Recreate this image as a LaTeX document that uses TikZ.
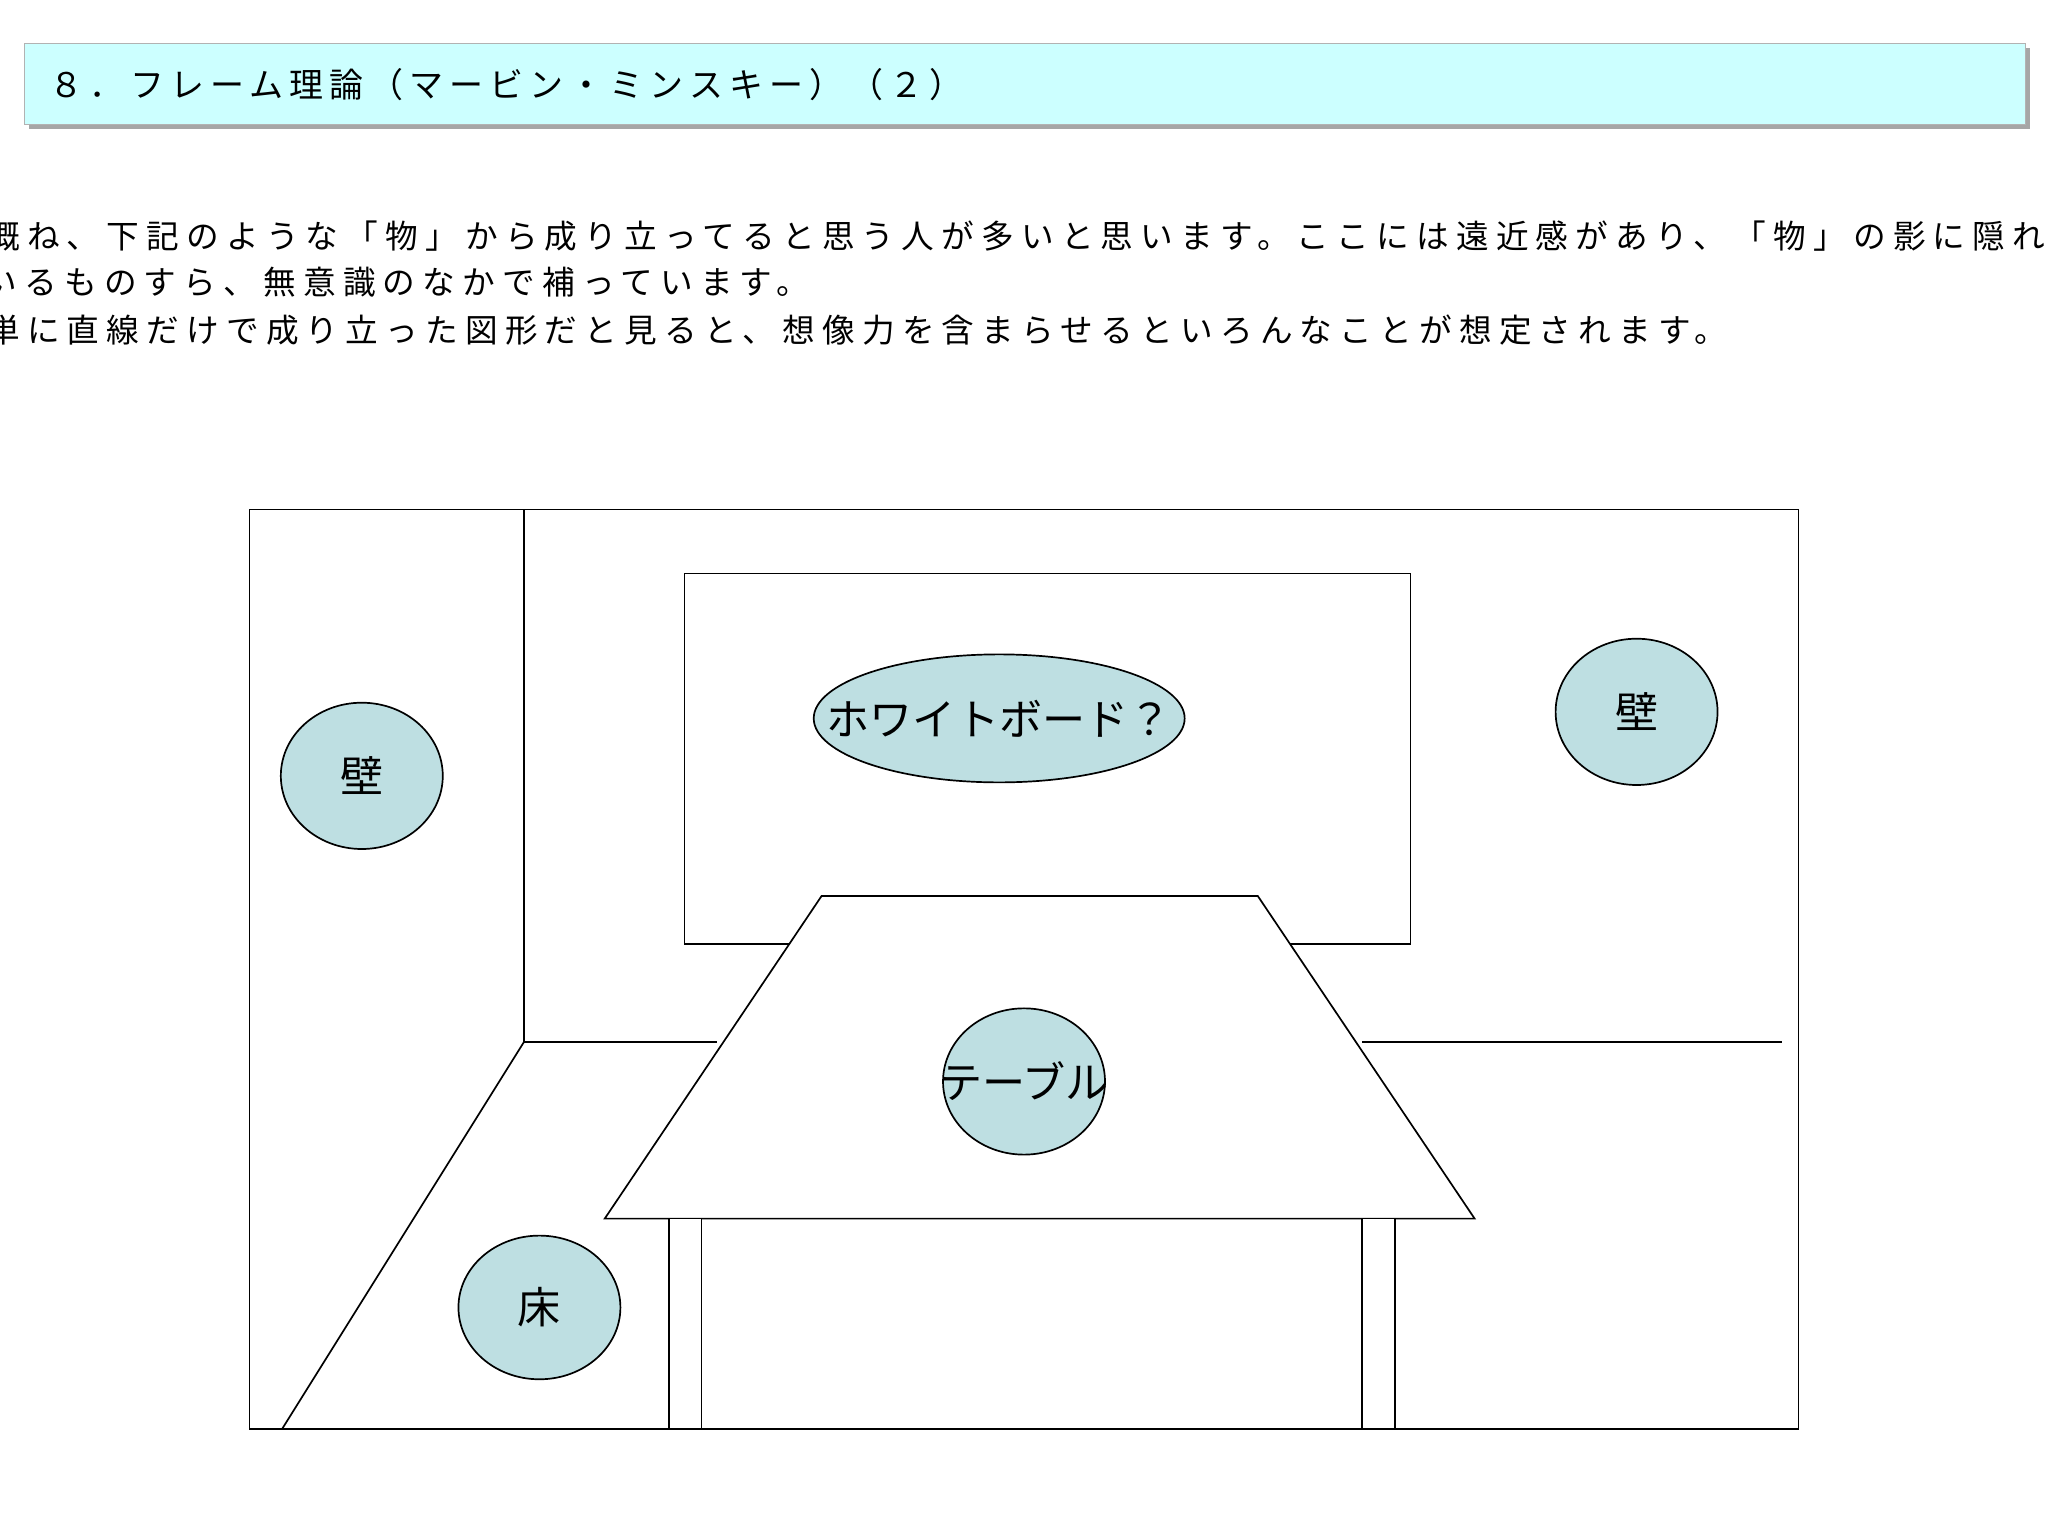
\documentclass[tikz,border=0pt]{standalone}
\usepackage{fontspec}
\setmainfont{Noto Sans CJK JP}
\newfontfamily\bodyf[LetterSpace=22]{Noto Sans CJK JP}
\newfontfamily\titlef[LetterSpace=18]{Noto Sans CJK JP}
\usetikzlibrary{shapes.geometric}
\definecolor{titlebg}{HTML}{CCFFFF}
\definecolor{lbl}{HTML}{BEDFE2}
\tikzset{
  ln/.style={draw=black,line width=1.3pt},
  lblell/.style={ellipse,draw=black,line width=1.3pt,fill=lbl,inner sep=0pt},
  lbltxt/.style={inner sep=0pt,font=\fontsize{33}{35}\selectfont},
  bodyline/.style={anchor=west,inner sep=0pt,font=\bodyf\fontsize{25}{27}\selectfont},
}
\begin{document}
\begin{tikzpicture}[x=1pt,y=-1pt]
\useasboundingbox (0,0) rectangle (1568,1176);
\clip (0,0) rectangle (1568,1176);
% title bar
\fill[gray!70] (22,37) rectangle (1554,99);
\node[draw=gray!60,line width=1pt,fill=titlebg,minimum width=1532pt,minimum height=62pt,anchor=north west,inner sep=0pt] (title) at (18,33) {};
\node[anchor=west,inner sep=0pt,font=\titlef\fontsize{26}{28}\selectfont] (tt) at (38,65) {８．フレーム理論（マービン・ミンスキー）（２）};
% body text
\node[bodyline] (l1) at (-10,181) {概ね、下記のような「物」から成り立ってると思う人が多いと思います。ここには遠近感があり、「物」の影に隠れ};
\node[bodyline] (l2) at (-12,216) {いるものすら、無意識のなかで補っています。};
\node[bodyline] (l3) at (-10,253) {単に直線だけで成り立った図形だと見ると、想像力を含まらせるといろんなことが想定されます。};
% room
\draw[ln] (191,390) rectangle (1377,1094);
\coordinate (c1) at (401,390);
\coordinate (c2) at (401,798);
\coordinate (c3) at (549,798);
\coordinate (c4) at (216,1094);
\coordinate (c5) at (1043,798);
\coordinate (c6) at (1364,798);
\draw[ln] (c1) -- (c2) -- (c3);
\draw[ln] (c2) -- (c4);
\draw[ln] (c5) -- (c6);
% whiteboard
\draw[ln] (524,439) rectangle (1080,723);
% table
\draw[ln,fill=white] (629,686) -- (963,686) -- (1129,933) -- (463,933) -- cycle;
\draw[ln,fill=white] (512,933) rectangle (537,1094);
\draw[ln,fill=white] (1043,933) rectangle (1068,1094);
% labels
\node[lblell,minimum width=124pt,minimum height=112pt] (w1) at (277,594) {};
\node[lbltxt] (w1t) at (w1) {壁};
\node[lblell,minimum width=124pt,minimum height=112pt] (w2) at (1253,545) {};
\node[lbltxt] (w2t) at (w2) {壁};
\node[lblell,minimum width=284pt,minimum height=98pt] (wb) at (765,550) {};
\node[lbltxt] (wbt) at (wb) {ホワイトボード？};
\node[lblell,minimum width=124pt,minimum height=112pt] (tb) at (784,828) {};
\node[lbltxt] (tbt) at (tb) {テーブル};
\node[lblell,minimum width=124pt,minimum height=110pt] (fl) at (413,1001) {};
\node[lbltxt] (flt) at (fl) {床};
\end{tikzpicture}
\end{document}
